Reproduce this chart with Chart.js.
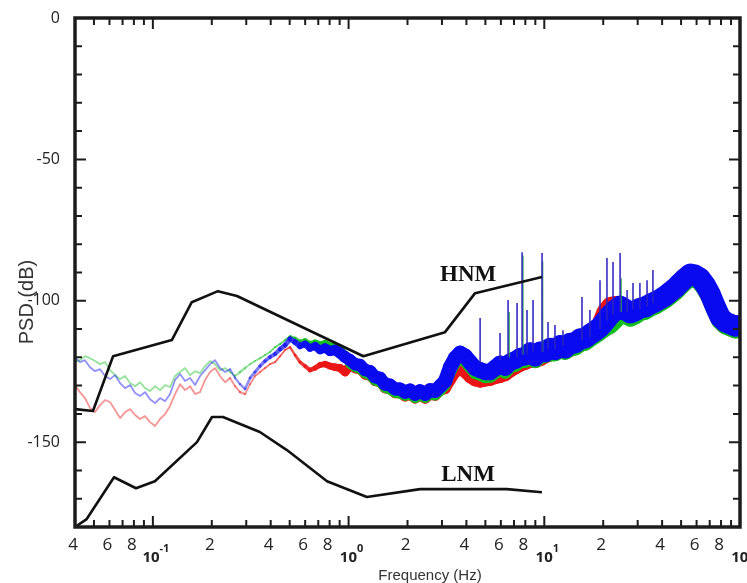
<!DOCTYPE html>
<html>
<head>
<meta charset="utf-8">
<script src="https://cdn.jsdelivr.net/npm/chart.js@4.4.1/dist/chart.umd.min.js"></script>
<style>
  html, body { margin: 0; padding: 0; background: #fff; }
  canvas { display: block; }
</style>
</head>
<body>
<canvas id="psdChart" width="747" height="583"></canvas>
<script>
// noise models (Peterson)
const hnmFreq = [0.04, 0.0494, 0.0626, 0.125, 0.158, 0.215, 0.269, 1.19, 3.11, 4.43, 9.73];
const hnmDb = [-138.3, -139.0, -119.6, -113.9, -100.5, -96.6, -98.3, -119.6, -111.1, -97.3, -91.6];
const lnmFreq = [0.04, 0.0459, 0.0633, 0.082, 0.1024, 0.168, 0.2005, 0.228, 0.352, 0.484, 0.776, 1.24, 2.32, 6.44, 9.73];
const lnmDb = [-180, -177.2, -162.4, -166.3, -163.8, -150.0, -141.1, -141.1, -146.4, -152.8, -163.8, -169.4, -166.6, -166.6, -167.7];

// PSD traces, one value per frequency
const freq = [
  0.0400, 0.0424, 0.0450, 0.0477, 0.0506, 0.0537, 0.0570, 0.0604, 0.0641, 0.0680,
  0.0721, 0.0765, 0.0811, 0.0860, 0.0912, 0.0967, 0.1026, 0.1088, 0.1154, 0.1224,
  0.1298, 0.1377, 0.1460, 0.1549, 0.1643, 0.1742, 0.1848, 0.1960, 0.2078, 0.2204,
  0.2338, 0.2480, 0.2630, 0.2789, 0.2958, 0.3138, 0.3328, 0.3529, 0.3743, 0.3970,
  0.4211, 0.4466, 0.4737, 0.5024, 0.5328, 0.5651, 0.5994, 0.6357, 0.6742, 0.7151,
  0.7584, 0.8044, 0.8531, 0.9048, 0.9597, 1.018, 1.079, 1.145, 1.214, 1.288,
  1.366, 1.448, 1.536, 1.629, 1.728, 1.833, 1.944, 2.062, 2.187, 2.319,
  2.460, 2.609, 2.767, 2.935, 3.113, 3.301, 3.501, 3.714, 3.939, 4.178,
  4.431, 4.699, 4.984, 5.286, 5.607, 5.947, 6.307, 6.690, 7.095, 7.525,
  7.981, 8.465, 8.978, 9.522, 10.10, 10.71, 11.36, 12.05, 12.78, 13.55,
  14.38, 15.25, 16.17, 17.15, 18.19, 19.30, 20.47, 21.71, 23.02, 24.42,
  25.90, 27.47, 29.13, 30.90, 32.77, 34.76, 36.86, 39.10, 41.47, 43.98,
  46.65, 49.48, 52.47, 55.65, 59.03, 62.60, 66.40, 70.42, 74.69, 79.22,
  84.02, 89.11, 94.51, 100.0
];
const blueDb = [
  -120.0, -121.7, -121.0, -123.5, -124.9, -124.2, -126.6, -127.7, -126.3, -129.1,
  -130.9, -129.8, -132.6, -133.7, -132.3, -134.8, -136.2, -134.4, -135.5, -133.0,
  -128.0, -125.9, -128.4, -127.3, -129.8, -126.6, -124.5, -122.4, -121.0, -123.8,
  -125.2, -124.2, -127.3, -129.5, -131.2, -127.3, -125.2, -123.1, -121.3, -119.9,
  -118.8, -117.1, -115.7, -113.5, -114.6, -116.0, -115.3, -116.7, -116.0, -117.4,
  -116.7, -117.8, -117.4, -118.5, -119.9, -121.0, -122.4, -122.7, -124.5, -124.9,
  -127.0, -127.3, -129.5, -129.8, -131.2, -131.2, -132.3, -131.6, -133.0, -131.9,
  -133.0, -131.6, -131.9, -130.2, -128.4, -123.5, -120.3, -118.5, -119.6, -121.7,
  -123.8, -124.5, -125.2, -125.2, -123.8, -122.4, -123.5, -121.7, -121.0, -119.9,
  -119.6, -118.0, -119.9, -117.8, -118.3, -116.6, -117.5, -115.7, -116.8, -115.0,
  -114.9, -113.5, -113.2, -111.8, -110.7, -109.3, -107.2, -105.0, -103.3, -101.9,
  -103.0, -104.3, -103.6, -102.6, -102.2, -101.2, -100.4, -99.4, -98.3, -96.9,
  -95.5, -93.7, -92.0, -90.5, -90.9, -92.0, -94.4, -97.6, -101.9, -105.8,
  -107.5, -108.2, -109.0, -108.6
];
const greenDb = [
  -121.7, -121.0, -119.6, -120.3, -121.3, -122.4, -121.7, -124.5, -126.3, -127.7,
  -126.6, -129.1, -130.2, -128.8, -130.9, -131.9, -130.2, -131.6, -129.8, -130.5,
  -126.6, -125.2, -123.8, -126.3, -124.9, -125.6, -123.1, -121.3, -122.4, -124.5,
  -123.8, -125.2, -126.6, -125.2, -123.8, -122.4, -121.3, -120.3, -119.2, -118.1,
  -116.4, -115.3, -113.9, -112.5, -113.2, -114.3, -113.9, -115.0, -114.6, -115.3,
  -115.0, -116.0, -116.4, -117.4, -119.2, -122.5, -123.6, -124.3, -125.8, -126.5,
  -128.3, -128.9, -130.8, -131.4, -132.5, -132.8, -133.5, -133.2, -134.3, -133.4,
  -134.2, -133.0, -133.3, -131.8, -129.8, -125.3, -122.0, -120.2, -121.3, -123.4,
  -125.4, -126.0, -126.8, -126.6, -125.3, -123.8, -125.0, -123.0, -122.5, -121.2,
  -121.0, -119.8, -121.0, -119.5, -119.0, -118.5, -118.4, -117.3, -117.8, -116.6,
  -116.2, -114.8, -114.5, -113.2, -112.0, -110.8, -109.5, -108.5, -106.8, -104.5,
  -105.0, -106.0, -105.2, -104.0, -103.6, -102.5, -101.7, -100.7, -99.6, -98.2,
  -96.8, -95.0, -93.3, -91.8, -92.2, -93.3, -95.7, -98.9, -103.2, -107.0,
  -108.7, -109.4, -110.2, -109.8
];
const redDb = [
  -129.8, -132.3, -134.4, -137.9, -139.4, -136.9, -135.1, -135.8, -138.6, -141.5,
  -139.4, -138.3, -140.4, -141.8, -140.8, -142.9, -144.3, -141.8, -140.1, -137.2,
  -133.0, -129.5, -131.6, -130.2, -133.0, -132.3, -128.0, -125.2, -123.8, -126.6,
  -128.8, -127.3, -130.2, -132.3, -133.0, -129.5, -126.6, -125.2, -123.8, -122.4,
  -121.7, -119.6, -117.4, -116.4, -119.2, -121.7, -123.1, -124.5, -123.8, -122.7,
  -122.4, -123.1, -123.5, -123.8, -125.2, -122.8, -124.0, -124.4, -126.2, -126.6,
  -128.5, -128.8, -131.0, -131.3, -132.7, -132.7, -133.8, -133.1, -134.5, -133.4,
  -134.5, -133.1, -133.4, -131.7, -131.0, -128.0, -125.2, -124.2, -125.2, -127.0,
  -128.0, -128.4, -128.0, -127.7, -127.0, -126.6, -125.9, -124.5, -123.5, -122.4,
  -121.7, -121.0, -121.0, -120.3, -119.2, -118.5, -118.1, -117.4, -117.4, -116.7,
  -116.0, -114.9, -114.3, -112.8, -111.4, -108.6, -104.3, -101.9, -101.5, -101.9,
  -104.0, -105.4, -104.7, -103.6, -103.3, -102.2, -101.5, -100.4, -99.4, -98.0,
  -96.6, -94.8, -93.0, -91.6, -92.0, -93.0, -95.5, -98.7, -102.9, -106.8,
  -108.6, -109.3, -110.0, -109.7
];

// narrow peaks above the band
const spikeFreq = [4.70, 5.94, 6.53, 7.26, 7.70, 8.16, 8.76, 9.74, 10.45, 11.34, 12.46, 15.58, 17.1, 19.26, 20.9, 22.45, 24.4, 26.5, 28.4, 30.8, 33.5, 35.9];
const spikeTopDb = [-106.1, -111.4, -99.7, -100.8, -82.8, -103.3, -99.7, -83.1, -107.5, -108.6, -110.4, -98.7, -103.3, -92.7, -84.9, -86.3, -83.1, -96.2, -93.7, -93.7, -92.7, -89.1];
const spikeBaseDb = [-122, -121, -120, -120, -119, -119, -118, -118, -117, -117, -116, -114, -113, -110, -107, -105, -104, -104, -103, -103, -102, -101];
const greenSpikeFreq = [6.62, 7.78, 9.80, 24.7];
const greenSpikeTopDb = [-104, -84, -86, -92];
const greenSpikeBaseDb = [-120, -119, -118, -104];

// axis ticks and labels
const xTickVals = [0.04, 0.05, 0.06, 0.07, 0.08, 0.09, 0.1, 0.2, 0.3, 0.4, 0.5, 0.6, 0.7, 0.8, 0.9,
  1, 2, 3, 4, 5, 6, 7, 8, 9, 10, 20, 30, 40, 50, 60, 70, 80, 90, 100];
const xLabelVals = [0.04, 0.06, 0.08, 0.2, 0.4, 0.6, 0.8, 2, 4, 6, 8, 20, 40, 60, 80];
const xLabelText = ['4', '6', '8', '2', '4', '6', '8', '2', '4', '6', '8', '2', '4', '6', '8'];
const decadeVals = [0.1, 1, 10, 100];
const decadeExp = ['-1', '0', '1', '2'];
const yTickVals = [0, -10, -20, -30, -40, -50, -60, -70, -80, -90, -100, -110, -120, -130, -140, -150, -160, -170, -180];
const yLabelVals = [0, -50, -100, -150];

function pts(xs, ys) {
    return xs.map(function (v, i) { return {x: v, y: ys[i]}; });
}

function spikePts(xs, tops, bases) {
    var out = [];
    xs.forEach(function (v, i) {
        out.push({x: v, y: bases[i]}, {x: v, y: tops[i]}, {x: v, y: null});
    });
    return out;
}

// band thickness / fading grow with frequency
function lerpLog(f, f0, f1, a, b) {
    var t = (Math.log(f) - Math.log(f0)) / (Math.log(f1) - Math.log(f0));
    t = Math.max(0, Math.min(1, t));
    return a + (b - a) * t;
}
function bandWidth(f) {
    if (f < 0.25) return 1.8;
    if (f < 0.5) return lerpLog(f, 0.25, 0.5, 1.8, 5);
    if (f < 1) return lerpLog(f, 0.5, 1, 5, 12);
    if (f < 3) return lerpLog(f, 1, 3, 12, 14);
    return lerpLog(f, 3, 15, 14, 21);
}
function bandAlpha(f) {
    if (f < 0.3) return 0.45;
    return lerpLog(f, 0.3, 0.8, 0.45, 1);
}
function mid(c) {
    return Math.sqrt(c.p0.parsed.x * c.p1.parsed.x);
}

function trace(ys, rgb, shrink) {
    return {
        data: pts(freq, ys),
        borderWidth: 2,
        borderColor: 'rgb(' + rgb + ')',
        borderCapStyle: 'round',
        borderJoinStyle: 'round',
        pointRadius: 0,
        blur: true,
        segment: {
            borderWidth: function (c) {
                var f = mid(c);
                var w = bandWidth(f);
                return f < 0.3 ? w : Math.max(1.8, w - shrink);
            },
            borderColor: function (c) { return 'rgba(' + rgb + ',' + bandAlpha(mid(c)) + ')'; },
        },
    };
}

// soften the edges of the noisy traces
const soften = {
    id: 'soften',
    beforeDatasetDraw(chart, args) {
        if (args.meta._dataset.blur) {
            chart.ctx.save();
            chart.ctx.filter = 'blur(0.7px)';
        }
    },
    afterDatasetDraw(chart, args) {
        if (args.meta._dataset.blur) chart.ctx.restore();
    }
};

const frame = {
    id: 'frame',
    afterDatasetsDraw(chart) {
        const {ctx, chartArea: a, scales: {x, y}} = chart;
        ctx.save();
        ctx.strokeStyle = '#1c1c1c';
        ctx.lineWidth = 2;
        ctx.beginPath();
        xTickVals.forEach(function (v) {
            var px = x.getPixelForValue(v);
            var len = decadeVals.indexOf(v) >= 0 ? 11 : 7;
            ctx.moveTo(px, a.bottom); ctx.lineTo(px, a.bottom - len);
            ctx.moveTo(px, a.top); ctx.lineTo(px, a.top + len);
        });
        yTickVals.forEach(function (v) {
            var py = y.getPixelForValue(v);
            var len = v % 50 === 0 ? 11 : 7;
            ctx.moveTo(a.left, py); ctx.lineTo(a.left + len, py);
            ctx.moveTo(a.right, py); ctx.lineTo(a.right - len, py);
        });
        ctx.stroke();
        ctx.lineWidth = 3.5;
        ctx.strokeRect(a.left, a.top, a.right - a.left, a.bottom - a.top);
        ctx.restore();
    },
    afterDraw(chart) {
        const {ctx, chartArea: a, scales: {x, y}} = chart;
        ctx.save();
        ctx.fillStyle = '#222';
        ctx.textAlign = 'center';
        ctx.textBaseline = 'middle';
        ctx.font = '17px "Open Sans"';
        xLabelVals.forEach(function (v, i) {
            ctx.fillText(xLabelText[i], x.getPixelForValue(v) - 2, a.bottom + 18);
        });
        // 10^n under the decade ticks
        ctx.textAlign = 'left';
        decadeVals.forEach(function (v, i) {
            ctx.font = 'bold 15px "Open Sans"';
            var wb = ctx.measureText('10').width;
            ctx.font = 'bold 11px "Open Sans"';
            var ws = ctx.measureText(decadeExp[i]).width;
            var left = x.getPixelForValue(v) + 3 - (wb + ws) / 2;
            ctx.font = 'bold 15px "Open Sans"';
            ctx.fillText('10', left, a.bottom + 31);
            ctx.font = 'bold 11px "Open Sans"';
            ctx.fillText(decadeExp[i], left + wb, a.bottom + 22);
        });
        ctx.textAlign = 'center';
        ctx.fillStyle = '#333';
        ctx.font = '15px "Liberation Sans"';
        ctx.fillText('Frequency (Hz)', 430, a.bottom + 49);
        ctx.translate(27, 302);
        ctx.rotate(-Math.PI / 2);
        ctx.font = '20px "Liberation Sans"';
        ctx.fillText('PSD (dB)', 0, 0);
        ctx.restore();

        ctx.save();
        ctx.fillStyle = '#111';
        ctx.textAlign = 'center';
        ctx.textBaseline = 'middle';
        ctx.font = 'bold 23px "Liberation Serif"';
        ctx.fillText('HNM', x.getPixelForValue(4.08), y.getPixelForValue(-90.9));
        ctx.fillText('LNM', x.getPixelForValue(4.08), y.getPixelForValue(-161.7));
        ctx.restore();
    }
};

new Chart(document.getElementById('psdChart'), {
    type: 'line',
    data: {
        datasets: [
            {data: pts(hnmFreq, hnmDb), borderColor: '#111', borderWidth: 2.6, pointRadius: 0, borderJoinStyle: 'round'},
            {data: pts(lnmFreq, lnmDb), borderColor: '#111', borderWidth: 2.6, pointRadius: 0, borderJoinStyle: 'round'},
            {data: spikePts(spikeFreq, spikeTopDb, spikeBaseDb), borderColor: 'rgba(45,35,190,0.85)', borderWidth: 1.8, pointRadius: 0, spanGaps: false},
            {data: spikePts(greenSpikeFreq, greenSpikeTopDb, greenSpikeBaseDb), borderColor: 'rgba(40,170,60,0.8)', borderWidth: 1.6, pointRadius: 0, spanGaps: false},
            trace(blueDb, '10,10,240', 0),
            trace(greenDb, '20,190,30', 3),
            trace(redDb, '235,20,20', 3),
        ],
    },
    options: {
        responsive: false,
        animation: false,
        layout: {
            padding: {left: 0, right: 7, top: 18, bottom: 56},
        },
        plugins: {
            legend: {display: false},
            tooltip: {enabled: false},
        },
        scales: {
            x: {
                type: 'logarithmic',
                min: 0.04,
                max: 100,
                display: false,
            },
            y: {
                min: -180,
                max: 0,
                afterBuildTicks: function (s) {
                    s.ticks = yLabelVals.map(function (v) { return {value: v}; });
                },
                afterFit: function (s) {
                    s.width = 75;
                },
                grid: {display: false},
                border: {display: false},
                ticks: {
                    font: {family: 'Open Sans', size: 16},
                    color: '#222',
                    padding: 7,
                },
            },
        },
    },
    plugins: [soften, frame],
});
</script>
</body>
</html>
